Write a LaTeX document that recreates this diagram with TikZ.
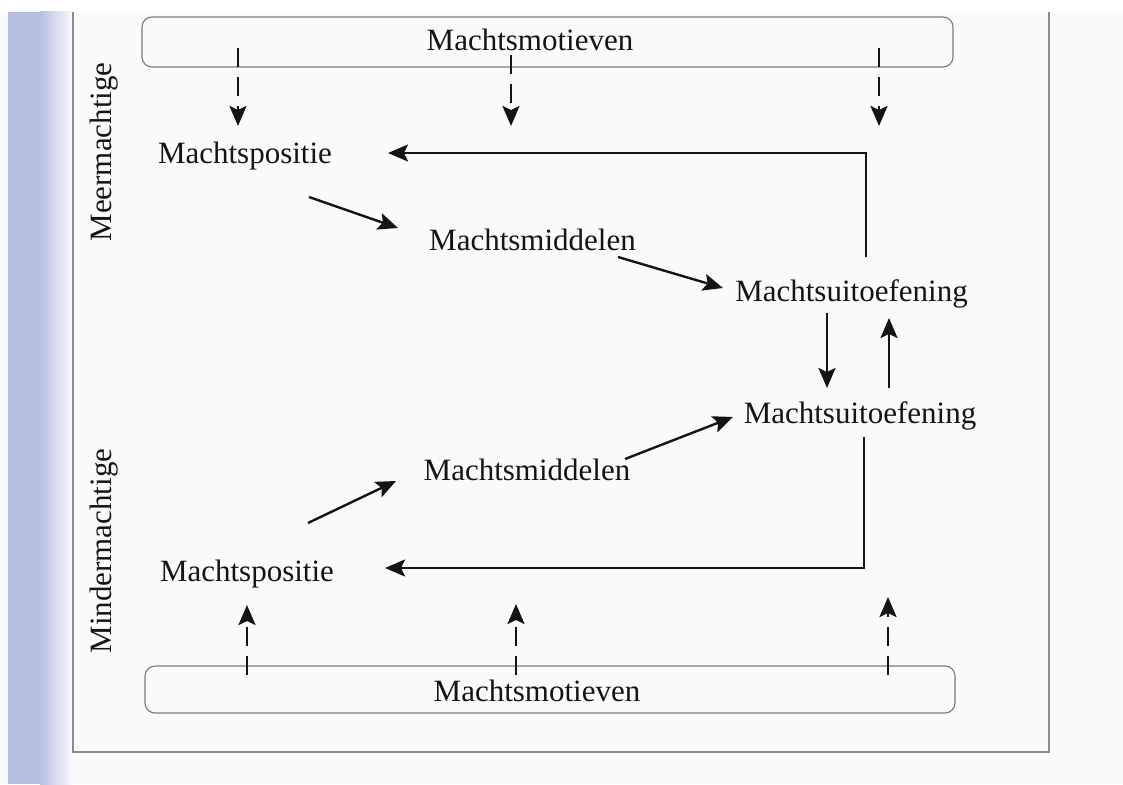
\documentclass[tikz,border=0pt]{standalone}
\usepackage{fontspec}
\setmainfont{Liberation Serif}
\usetikzlibrary{arrows.meta}
\definecolor{ink}{HTML}{141414}
\definecolor{bg}{HTML}{F9FAFB}
\definecolor{framec}{HTML}{8A8A8A}
\definecolor{boxc}{HTML}{7A7A7A}
\definecolor{stripA}{RGB}{182,190,226}
\tikzset{
  lbl/.style={font=\fontsize{31}{36}\selectfont, text=ink, inner sep=0pt, anchor=base},
  motbox/.style={draw=boxc, line width=1.1pt, rounded corners=10pt, inner sep=0pt},
  arr/.style={draw=ink, line width=2.4pt, -{Stealth[length=20pt,width=17pt,inset=4pt]}},
  darr/.style={arr, dash pattern=on 19pt off 10pt},
  framel/.style={draw=framec, line width=1.3pt}
}
\begin{document}
\begin{tikzpicture}[x=1pt,y=-1pt]
\useasboundingbox (0,0) rectangle (1123,784);
\fill[bg] (0,0) rectangle (1123,784);
\fill[white] (0,0) rectangle (1123,12);
\fill[stripA] (8,12) rectangle (40,784);
\shade[left color=stripA, right color=bg] (40,12) rectangle (72,784);
\draw[framel] (73,12) -- (73,752) -- (1049,752) -- (1049,12);

% side labels
\node[lbl, rotate=90] (meer) at (111,152) {Meermachtige};
\node[lbl, rotate=90] (minder) at (111,551) {Mindermachtige};

% motive boxes
\node[motbox, minimum width=811pt, minimum height=50pt] (boxT) at (547.5,42) {};
\node[lbl] (motT) at (530,51) {Machtsmotieven};
\node[motbox, minimum width=810pt, minimum height=47pt] (boxB) at (550,689.5) {};
\node[lbl] (motB) at (537,701) {Machtsmotieven};

% nodes
\node[lbl] (posT) at (245,163) {Machtspositie};
\node[lbl] (midT) at (532.5,250) {Machtsmiddelen};
\node[lbl] (uitT) at (851.5,301) {Machtsuitoefening};
\node[lbl] (uitB) at (860,423) {Machtsuitoefening};
\node[lbl] (midB) at (527,480) {Machtsmiddelen};
\node[lbl] (posB) at (247,581) {Machtspositie};

% connector end points
\coordinate (dT1a) at (238,48);  \coordinate (dT1b) at (238,126);
\coordinate (dT2a) at (511,55);  \coordinate (dT2b) at (511,126);
\coordinate (dT3a) at (879,48);  \coordinate (dT3b) at (879,126);
\coordinate (dB1a) at (247,675); \coordinate (dB1b) at (247,605);
\coordinate (dB2a) at (516,675); \coordinate (dB2b) at (516,604);
\coordinate (dB3a) at (888,675); \coordinate (dB3b) at (888,597);

\coordinate (a1s) at (309,197); \coordinate (a1e) at (398,228);
\coordinate (a2s) at (618,257); \coordinate (a2e) at (723,288);
\coordinate (a3s) at (827,313); \coordinate (a3e) at (827,388);
\coordinate (a4s) at (889,388); \coordinate (a4e) at (889,318);
\coordinate (a5s) at (308,523); \coordinate (a5e) at (396,481);
\coordinate (a6s) at (625,459); \coordinate (a6e) at (733,417);
\coordinate (fTs) at (866,257); \coordinate (fTc) at (866,153); \coordinate (fTe) at (388,153);
\coordinate (fBs) at (864,437); \coordinate (fBc) at (864,568); \coordinate (fBe) at (385,568);

% dashed motive arrows
\draw[darr] (dT1a) -- (dT1b);
\draw[darr] (dT2a) -- (dT2b);
\draw[darr] (dT3a) -- (dT3b);
\draw[darr] (dB1a) -- (dB1b);
\draw[darr] (dB2a) -- (dB2b);
\draw[darr] (dB3a) -- (dB3b);

% solid arrows
\draw[arr] (a1s) -- (a1e);
\draw[arr] (a2s) -- (a2e);
\draw[arr] (a3s) -- (a3e);
\draw[arr] (a4s) -- (a4e);
\draw[arr] (a5s) -- (a5e);
\draw[arr] (a6s) -- (a6e);
\draw[arr] (fTs) -- (fTc) -- (fTe);
\draw[arr] (fBs) -- (fBc) -- (fBe);
\end{tikzpicture}
\end{document}
